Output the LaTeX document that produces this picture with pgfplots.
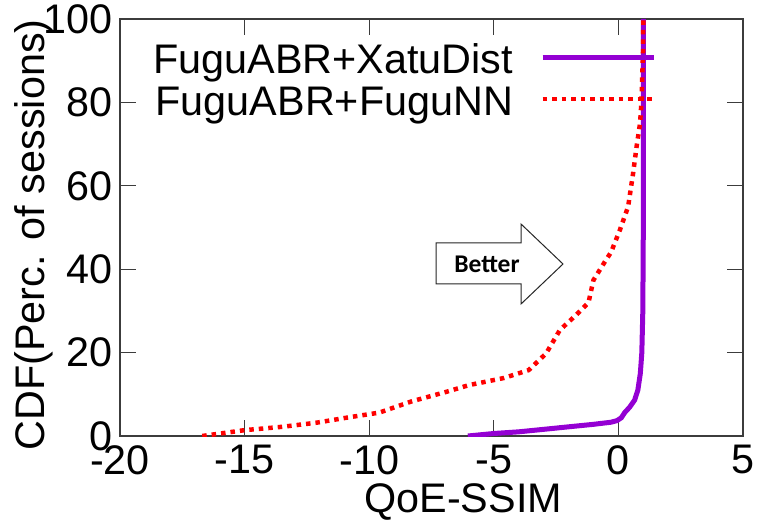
\documentclass[border=0pt]{standalone}
\usepackage{pgfplots}
\pgfplotsset{compat=1.18}
\usepackage{fontspec}
\setmainfont{Liberation Sans}
\newfontfamily\betterfont{Carlito}
\definecolor{xatu}{RGB}{148,0,211}
\definecolor{fugu}{RGB}{255,0,0}
\definecolor{axgray}{RGB}{60,60,60}
\begin{document}
\fontsize{41.5}{48}\selectfont
\begin{tikzpicture}
\path[use as bounding box] (-120bp,-85bp) rectangle (643bp,436bp);
\begin{axis}[
  at={(0,0)}, anchor=south west,
  scale only axis, width=623bp, height=417bp,
  xmin=-20, xmax=5, ymin=0, ymax=100,
  xtick={-20,-15,-10,-5,0,5},
  xticklabels={-20,-15,-10,-5,0,5},
  ytick={0,20,40,60,80,100},
  yticklabels={0,20,40,60,80,100},
  tick align=inside,
  major tick length=16bp,
  every tick/.style={axgray, line width=1.3bp},
  axis line style={axgray, line width=1.3bp},
  xticklabel style={anchor=north, inner sep=0pt, yshift=-9bp, font=\fontsize{41.5}{48}\selectfont},
  yticklabel style={anchor=east, inner sep=0pt, xshift=-7bp, font=\fontsize{41.5}{48}\selectfont},
  xlabel={QoE-SSIM},
  ylabel={CDF(Perc. of sessions)},
  every axis x label/.style={at={(axis description cs:0.551,-0.1823)}, anchor=base, inner sep=0pt, font=\fontsize{41.5}{48}\selectfont},
  every axis y label/.style={at={(axis description cs:-0.1204,0.482)}, anchor=base, rotate=90, inner sep=0pt, font=\fontsize{41.5}{48}\selectfont},
  legend plot pos=right,
  legend cell align=right,
  legend image code/.code={\draw[#1] (0bp,0bp) -- (111bp,0bp);},
  legend style={draw=none, fill=none, at={(axis description cs:0.8604,0.9592)}, anchor=north east,
    inner sep=0pt, outer sep=0pt, row sep=0pt, column sep=27bp,
    font=\fontsize{41.5}{48}\selectfont,
    nodes={inner sep=0pt, text height=37bp, text depth=5bp}},
]
\addplot[xatu, line width=5bp] table {
x y
-6.04 0
-5 0.6
-4 1.0
-3 1.6
-2 2.2
-1 2.8
-0.3 3.3
-0.05 3.7
0.12 4.4
0.25 5.6
0.45 6.9
0.65 8.6
0.78 11
0.88 15
0.94 20
0.98 30
1.0 50
1.0 100
};
\addlegendentry{FuguABR+XatuDist}
\addplot[fugu, line width=4.5bp, dash pattern=on 4.5bp off 5bp] table {
x y
-16.7 0
-15.0 1.4
-13.5 2.2
-12.1 3.2
-10.8 4.5
-9.6 5.6
-8.3 8.3
-6.9 10.6
-6.0 12.2
-4.6 13.9
-3.6 15.8
-2.9 19.8
-2.35 25.4
-1.7 29
-1.2 32
-1.0 37.4
-0.5 42.2
-0.3 44
0.06 49.4
0.39 55
0.59 63
0.73 69.4
0.87 75
0.93 80.6
0.99 92.6
1.0 100
};
\addlegendentry{FuguABR+FuguNN}
\end{axis}
\draw[black!85, line width=1bp, fill=white] (316bp,193bp) -- (401bp,193bp) -- (401bp,212bp) -- (443bp,172bp) -- (401bp,132bp) -- (401bp,152bp) -- (316bp,152bp) -- cycle;
\node[font=\betterfont\bfseries\fontsize{25.6}{30}\selectfont, inner sep=0pt] at (367bp,172bp) {Better};
\end{tikzpicture}
\end{document}
